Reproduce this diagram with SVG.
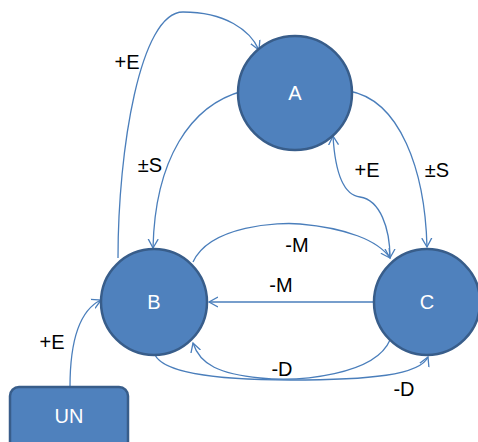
<svg xmlns="http://www.w3.org/2000/svg" width="478" height="442" viewBox="0 0 478 442">
<style>
.node{fill:#4F81BD;stroke:#385D8A;stroke-width:2.5}
.nl{font-family:"Liberation Sans",Arial,sans-serif;font-size:20px;fill:#fff;text-anchor:middle;dominant-baseline:central}
.el{font-family:"Liberation Sans",Arial,sans-serif;font-size:20px;fill:#000;text-anchor:middle;dominant-baseline:central}
.c{fill:none;stroke:#4A7EBB;stroke-width:1.3}
</style>
<defs>
<marker id="ah" markerUnits="userSpaceOnUse" markerWidth="12" markerHeight="12" refX="9" refY="5" orient="auto-start-reverse" viewBox="0 0 12 10">
<path d="M0,0 L9,5 L0,10" fill="none" stroke="#4A7EBB" stroke-width="1.3"/>
</marker>
</defs>
<g id="connectors">
<path class="c" d="M118,258 C118,150 140,12 183,12 C225,12 250,30 259,50" marker-end="url(#ah)"/>
<path class="c" d="M243,91 C190,105 155,160 153,248" marker-end="url(#ah)"/>
<path class="c" d="M349,91 C400,100 425,170 427,247" marker-end="url(#ah)"/>
<path class="c" d="M333,136 C335,170 343,195 360,197 C380,200 390,228 390,258" marker-start="url(#ah)" marker-end="url(#ah)"/>
<path class="c" d="M193,262 C210,225 280,222 300,224 C345,228 378,240 390,258" marker-end="url(#ah)"/>
<path class="c" d="M374,302 L209,302" marker-end="url(#ah)"/>
<path class="c" d="M390,340 C375,375 300,382 260,378 C220,374 200,365 193,343" marker-end="url(#ah)"/>
<path class="c" d="M155,355 C165,375 230,380 290,380 C370,380 420,375 428,357" marker-end="url(#ah)"/>
<path class="c" d="M70,387 C70,340 80,310 101,300" marker-end="url(#ah)"/>
</g>
<g id="labels">
<text class="el" x="127" y="62">+E</text>
<text class="el" x="150" y="165">±S</text>
<text class="el" x="367" y="170">+E</text>
<text class="el" x="437" y="170">±S</text>
<text class="el" x="297" y="245">-M</text>
<text class="el" x="281" y="285">-M</text>
<text class="el" x="282" y="369">-D</text>
<text class="el" x="404" y="389">-D</text>
<text class="el" x="52" y="342">+E</text>
</g>
<g id="A"><circle class="node" cx="295" cy="93" r="57"/><text class="nl" x="295" y="93">A</text></g>
<g id="B"><circle class="node" cx="154" cy="302" r="53"/><text class="nl" x="154" y="302">B</text></g>
<g id="C"><circle class="node" cx="427" cy="302" r="53"/><text class="nl" x="427" y="302">C</text></g>
<g id="UN"><rect class="node" x="10" y="387" width="118" height="64" rx="9"/><text class="nl" x="69" y="416">UN</text></g>
</svg>
